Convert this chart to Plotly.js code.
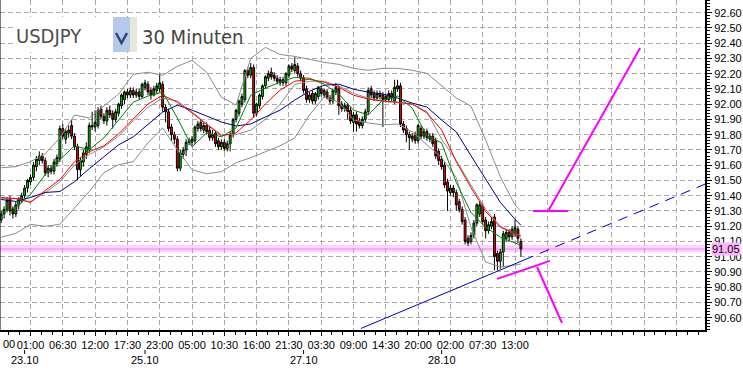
<!DOCTYPE html>
<html><head><meta charset="utf-8">
<script src="https://cdn.plot.ly/plotly-3.0.1.min.js"></script>
<style>html,body{margin:0;padding:0;background:#fff;overflow:hidden}#chart{width:743px;height:370px}</style>
</head><body><div id="chart"></div>
<script>
// ---- candle data (30 min bars, USDJPY) ----
const openP = [91.24,91.28,91.31,91.38,91.31,91.28,91.34,91.37,91.40,91.45,
 91.49,91.52,91.59,91.63,91.66,91.63,91.55,91.58,91.56,91.61,
 91.64,91.84,91.77,91.81,91.86,91.79,91.72,91.57,91.62,91.67,
 91.70,91.86,91.85,91.86,91.97,91.92,91.89,91.96,91.94,91.90,
 91.94,91.99,92.03,92.08,92.06,92.09,92.06,92.08,92.05,92.11,
 92.13,92.09,92.06,92.09,92.10,92.13,91.98,91.95,91.85,91.80,
 91.77,91.58,91.67,91.70,91.76,91.75,91.76,91.84,91.88,91.83,
 91.86,91.83,91.78,91.81,91.76,91.72,91.75,91.71,91.74,91.80,
 91.90,91.94,92.00,92.03,92.22,92.19,92.24,91.94,91.99,92.05,
 92.12,92.17,92.21,92.19,92.17,92.14,92.16,92.14,92.19,92.25,
 92.22,92.25,92.20,92.17,92.10,92.03,92.07,92.02,92.05,92.10,
 92.06,92.08,92.04,92.02,92.08,92.10,92.00,91.97,91.99,91.96,
 91.88,91.93,91.89,91.86,91.90,91.95,92.10,92.07,92.04,92.07,
 92.06,92.05,92.03,92.07,92.02,92.10,92.12,91.87,91.84,91.80,
 91.77,91.80,91.76,91.84,91.79,91.82,91.77,91.79,91.76,91.69,
 91.64,91.60,91.49,91.42,91.45,91.42,91.36,91.31,91.24,91.12,
 91.10,91.14,91.22,91.28,91.33,91.24,91.17,91.20,91.26,91.02,
 90.97,91.03,91.12,91.16,91.13,91.15,91.18,91.10];
const highP = [91.30,91.33,91.39,91.40,91.33,91.36,91.39,91.42,91.47,91.51,
 91.54,91.62,91.66,91.69,91.68,91.65,91.60,91.60,91.64,91.67,
 91.86,91.87,91.84,91.86,91.90,91.81,91.74,91.65,91.70,91.75,
 91.88,91.95,91.96,91.98,91.99,91.94,91.98,91.99,91.96,91.97,
 92.01,92.07,92.09,92.10,92.11,92.11,92.10,92.10,92.14,92.16,
 92.15,92.11,92.12,92.14,92.20,92.15,92.00,91.97,91.87,91.82,
 91.79,91.70,91.72,91.77,91.78,91.79,91.86,91.89,91.90,91.88,
 91.88,91.85,91.83,91.83,91.78,91.77,91.77,91.76,91.82,91.91,
 91.97,92.03,92.07,92.23,92.24,92.27,92.26,92.01,92.07,92.13,
 92.19,92.22,92.24,92.21,92.19,92.18,92.18,92.21,92.26,92.27,
 92.31,92.27,92.22,92.19,92.12,92.08,92.09,92.08,92.12,92.12,
 92.10,92.10,92.06,92.10,92.14,92.12,92.02,92.01,92.01,91.98,
 91.95,91.95,91.91,91.92,91.97,92.11,92.12,92.09,92.09,92.09,
 92.08,92.07,92.09,92.09,92.16,92.16,92.14,91.89,91.86,91.82,
 91.81,91.82,91.87,91.86,91.84,91.84,91.81,91.81,91.78,91.71,
 91.66,91.62,91.51,91.47,91.47,91.44,91.38,91.33,91.26,91.14,
 91.16,91.24,91.35,91.36,91.35,91.26,91.23,91.26,91.28,91.04,
 91.05,91.17,91.18,91.18,91.20,91.24,91.20,91.12];
const lowP = [91.22,91.25,91.29,91.27,91.25,91.26,91.31,91.35,91.38,91.42,
 91.47,91.50,91.56,91.60,91.61,91.53,91.52,91.54,91.54,91.59,
 91.62,91.77,91.74,91.78,91.77,91.70,91.50,91.53,91.59,91.64,
 91.68,91.83,91.82,91.84,91.90,91.87,91.86,91.91,91.84,91.88,
 91.92,91.97,92.00,92.04,92.04,92.04,92.04,92.03,92.04,92.09,
 92.06,92.03,92.05,92.07,92.08,91.95,91.88,91.82,91.76,91.74,
 91.56,91.56,91.64,91.66,91.73,91.73,91.74,91.82,91.82,91.81,
 91.80,91.76,91.76,91.72,91.70,91.70,91.69,91.69,91.69,91.78,
 91.88,91.92,91.98,92.01,92.17,92.17,91.91,91.92,91.97,92.03,
 92.10,92.15,92.16,92.15,92.13,92.12,92.12,92.12,92.17,92.21,
 92.20,92.18,92.15,92.07,92.01,92.01,92.00,92.00,92.03,92.05,
 92.04,92.03,92.00,92.00,92.06,91.93,91.95,91.95,91.90,91.87,
 91.82,91.82,91.84,91.84,91.88,91.93,92.04,92.02,92.02,92.03,
 91.85,92.01,92.01,92.02,92.00,92.08,91.85,91.81,91.75,91.70,
 91.75,91.74,91.74,91.77,91.77,91.76,91.75,91.72,91.64,91.60,
 91.57,91.45,91.30,91.40,91.39,91.30,91.29,91.21,91.08,91.07,
 91.08,91.12,91.20,91.26,91.21,91.12,91.15,91.18,90.91,90.91,
 90.92,90.93,91.10,91.10,91.11,91.13,91.09,91.00];
const closeP = [91.28,91.31,91.37,91.30,91.28,91.34,91.38,91.40,91.45,91.50,
 91.52,91.60,91.64,91.66,91.63,91.55,91.58,91.56,91.62,91.65,
 91.84,91.79,91.82,91.83,91.79,91.72,91.57,91.63,91.68,91.72,
 91.86,91.85,91.88,91.96,91.92,91.89,91.96,91.93,91.90,91.95,
 92.00,92.06,92.08,92.06,92.09,92.06,92.08,92.05,92.13,92.14,
 92.08,92.06,92.10,92.12,92.14,91.98,91.95,91.84,91.80,91.77,
 91.58,91.68,91.70,91.75,91.75,91.77,91.85,91.87,91.84,91.86,
 91.82,91.78,91.80,91.74,91.72,91.75,91.71,91.74,91.80,91.90,
 91.96,92.02,92.05,92.22,92.19,92.24,91.94,92.00,92.06,92.12,
 92.18,92.20,92.18,92.17,92.15,92.16,92.14,92.20,92.25,92.23,
 92.26,92.20,92.17,92.09,92.03,92.06,92.02,92.07,92.11,92.07,
 92.09,92.04,92.02,92.09,92.11,91.99,91.97,91.99,91.95,91.89,
 91.93,91.87,91.86,91.90,91.95,92.09,92.06,92.04,92.07,92.05,
 92.03,92.03,92.07,92.04,92.11,92.12,91.87,91.83,91.80,91.78,
 91.79,91.76,91.86,91.79,91.82,91.78,91.79,91.74,91.66,91.63,
 91.59,91.47,91.43,91.45,91.42,91.34,91.31,91.23,91.10,91.09,
 91.14,91.22,91.34,91.34,91.23,91.17,91.21,91.23,91.00,90.97,
 91.03,91.15,91.16,91.13,91.18,91.19,91.12,91.05];

// ---- indicator lines, read at every 5th bar ----
const maIdx = [0,5,10,15,20,25,30,35,40,45,50,55,60,65,70,75,80,85,90,95,100,105,110,115,120,125,130,135,140,145,150,155,160,165,170,175,177];
const maGreen = [91.290,91.323,91.408,91.538,91.636,91.727,91.701,91.779,91.896,92.013,92.053,92.079,91.909,91.720,91.812,91.786,91.844,92.059,92.105,92.144,92.176,92.170,92.131,92.066,91.961,91.929,92.027,92.053,91.974,91.792,91.746,91.486,91.290,91.193,91.127,91.088,91.075];
const maRed = [91.388,91.381,91.355,91.434,91.505,91.623,91.688,91.727,91.805,91.903,92.001,92.059,92.013,91.942,91.864,91.792,91.812,91.896,92.001,92.092,92.150,92.163,92.144,92.111,92.059,92.033,92.020,92.013,92.001,91.942,91.831,91.623,91.453,91.297,91.193,91.147,91.134];
const maBlue = [91.375,91.362,91.388,91.421,91.427,91.492,91.577,91.655,91.733,91.786,91.870,91.948,91.994,91.961,91.922,91.883,91.857,91.870,91.916,91.961,92.027,92.085,92.124,92.131,92.098,92.079,92.066,92.040,92.007,91.981,91.896,91.818,91.662,91.505,91.356,91.245,91.206];
const bbUpper = [91.583,91.590,91.623,91.675,91.779,91.929,91.909,91.987,92.066,92.196,92.209,92.189,92.248,92.287,92.209,92.046,91.994,92.300,92.372,92.326,92.313,92.294,92.274,92.261,92.235,92.222,92.235,92.235,92.222,92.202,92.124,92.040,91.987,91.766,91.523,91.340,91.297];
const bbMid = [91.38,91.38,91.36,91.42,91.49,91.60,91.67,91.72,91.79,91.89,91.98,92.04,92.02,91.95,91.87,91.80,91.80,91.83,91.90,92.00,92.13,92.15,92.15,92.12,92.07,92.04,92.02,92.01,92.00,91.95,91.77,91.63,91.47,91.31,91.20,91.15,91.14];
const bbLower = [91.127,91.153,91.212,91.199,91.212,91.323,91.427,91.551,91.603,91.623,91.746,91.844,91.701,91.570,91.544,91.557,91.616,91.649,91.688,91.727,91.779,91.929,92.046,92.013,91.896,91.877,91.864,91.870,91.818,91.734,91.649,91.519,91.193,90.965,90.932,90.945,90.952];

// ---- axis labels ----
const timeTickIdx = [10,21,32,43,54,65,76,87,98,109,120,131,142,153,164,175];
const timeTickText = ["01:00","06:30","12:00","17:30","23:00","05:00","10:30","16:00","21:30","03:30","09:00","14:30","20:00","02:00","07:30","13:00"];
const gridOnlyIdx = [186,197,208,219,230];
const dateIdx = [8,49,103,150];
const dateText = ["23.10","25.10","27.10","28.10"];
const lastPrice = 91.05;

// ---- hand-drawn lines on the chart ----
const trendSolidX = [122.5,178.1];
const trendSolidY = [90.529,90.978];
const trendDashX = [178.1,241];
const trendDashY = [90.978,91.486];
const drawX = [181.15,193.07,null,186.3,217.6,null,168.9,186.9,null,182.5,191.0];
const drawY = [91.299,91.299,null,91.299,92.368,null,90.854,90.972,null,90.932,90.565];

const FONT = "Liberation Sans, Arial, sans-serif";
const idx = openP.map((_, i) => i);

const traces = [
  {type:'candlestick', x:idx, open:openP, high:highP, low:lowP, close:closeP,
   increasing:{line:{color:'#000',width:1}, fillcolor:'#00e000'},
   decreasing:{line:{color:'#000',width:1}, fillcolor:'#ff0000'},
   whiskerwidth:0, hoverinfo:'skip', showlegend:false},
  {type:'scatter', mode:'lines', x:maIdx, y:bbUpper, line:{color:'#8c8c8c',width:1}, hoverinfo:'skip', showlegend:false},
  {type:'scatter', mode:'lines', x:maIdx, y:bbLower, line:{color:'#8c8c8c',width:1}, hoverinfo:'skip', showlegend:false},
  {type:'scatter', mode:'lines', x:maIdx, y:bbMid, line:{color:'#8c8c8c',width:1}, hoverinfo:'skip', showlegend:false},
  {type:'scatter', mode:'lines', x:maIdx, y:maBlue, line:{color:'#000080',width:1}, hoverinfo:'skip', showlegend:false},
  {type:'scatter', mode:'lines', x:maIdx, y:maRed, line:{color:'#ff0000',width:1}, hoverinfo:'skip', showlegend:false},
  {type:'scatter', mode:'lines', x:maIdx, y:maGreen, line:{color:'#008000',width:1}, hoverinfo:'skip', showlegend:false},
  {type:'scatter', mode:'lines', x:trendSolidX, y:trendSolidY, line:{color:'#0000c0',width:1}, hoverinfo:'skip', showlegend:false},
  {type:'scatter', mode:'lines', x:trendDashX, y:trendDashY, line:{color:'#0000c0',width:1,dash:'10px,7px'}, hoverinfo:'skip', showlegend:false},
  {type:'scatter', mode:'lines', x:drawX, y:drawY, connectgaps:false, line:{color:'#ff00ff',width:2}, hoverinfo:'skip', showlegend:false}
];

const PW = 705, PH = 330;
const px = v => v / PW;           // pixel -> paper x
const py = v => 1 - v / PH;       // pixel -> paper y

const shapes = [
  {type:'rect', xref:'paper', yref:'y', x0:0, x1:1, y0:lastPrice-0.02, y1:lastPrice+0.026, fillcolor:'#ffd5ff', line:{width:0}, layer:'below'},
  {type:'line', xref:'paper', yref:'y', x0:0, x1:1, y0:lastPrice, y1:lastPrice, line:{color:'#ff99ff',width:1.5}, layer:'below'},
  {type:'line', xref:'paper', yref:'paper', x0:0, x1:0, y0:0, y1:1, line:{color:'#000',width:1}},
  // instrument selector widget
  {type:'rect', xref:'paper', yref:'paper', x0:px(13), x1:px(222), y0:py(52), y1:py(17), fillcolor:'#ffffff', line:{width:0}},
  {type:'rect', xref:'paper', yref:'paper', x0:px(113), x1:px(130), y0:py(52), y1:py(17), fillcolor:'#b7c9ea', line:{width:0}},
  {type:'rect', xref:'paper', yref:'paper', x0:px(130), x1:px(137), y0:py(52), y1:py(17), fillcolor:'#e6e6de', line:{width:0}},
  {type:'path', xref:'paper', yref:'paper', path:`M ${px(116)} ${py(33)} L ${px(121.5)} ${py(43)} L ${px(127)} ${py(33)}`, line:{color:'#2b4780',width:2.5}}
];
dateIdx.forEach(d => shapes.push({type:'line', xref:'x', yref:'paper', x0:d, x1:d, y0:py(350), y1:py(354), line:{color:'#000',width:1}}));

const annotations = [
  {xref:'paper', yref:'paper', x:px(14), y:py(36), xanchor:'left', yanchor:'middle', text:'USDJPY', showarrow:false,
   font:{family:"Liberation Sans Narrow, DejaVu Sans Condensed, Liberation Sans, sans-serif", size:20, color:'#4d4d4d'}},
  {xref:'paper', yref:'paper', x:px(140), y:py(37), xanchor:'left', yanchor:'middle', text:'30 Minuten', showarrow:false,
   font:{family:"Liberation Sans Narrow, DejaVu Sans Condensed, Liberation Sans, sans-serif", size:20, color:'#444'}},
  {xref:'paper', yref:'paper', x:0, y:py(344), xanchor:'left', yanchor:'middle', xshift:1, text:'00', showarrow:false,
   font:{family:FONT, size:11, color:'#000'}},
  {xref:'paper', yref:'y', x:1, y:lastPrice, xanchor:'left', yanchor:'middle', xshift:6, text:lastPrice.toFixed(2), showarrow:false,
   bgcolor:'#ffb3ff', borderpad:0, font:{family:FONT, size:11, color:'#000'}}
];
dateIdx.forEach((d, k) => annotations.push({xref:'x', yref:'paper', x:d, y:py(360), xanchor:'center', yanchor:'middle',
  text:dateText[k], showarrow:false, font:{family:FONT, size:11, color:'#000'}}));

const gridStyle = {showgrid:true, gridcolor:'#aaaaaa', gridwidth:1, griddash:'5px,3px'};

const layout = {
  width:743, height:370,
  margin:{l:0, r:743-PW, t:0, b:370-PH, pad:0},
  paper_bgcolor:'#fff', plot_bgcolor:'#fff',
  showlegend:false, hovermode:false, boxgap:0.1,
  xaxis: Object.assign({}, gridStyle, {
    type:'linear', range:[-0.39, 239.7], autorange:false,
    tickmode:'array', tickvals:timeTickIdx.concat(gridOnlyIdx),
    ticktext:timeTickText.concat(gridOnlyIdx.map(() => '')),
    tickangle:0, ticks:'outside', ticklen:4, tickcolor:'#000', tickwidth:1,
    minor:{tickmode:'linear', tick0:10, dtick:11/3, ticks:'outside', ticklen:3, tickcolor:'#000', showgrid:false},
    showline:true, linecolor:'#000', linewidth:2, zeroline:false,
    rangeslider:{visible:false}, ticklabelstandoff:0,
    tickfont:{family:FONT, size:11, color:'#000'}, fixedrange:true
  }),
  yaxis: Object.assign({}, gridStyle, {
    side:'right', range:[90.519, 92.683], autorange:false,
    tick0:90.6, dtick:0.1, tickformat:'.2f',
    ticks:'outside', ticklen:5, tickcolor:'#000', tickwidth:1,
    minor:{tickmode:'linear', tick0:90.6, dtick:0.02, ticks:'outside', ticklen:3, tickcolor:'#000', showgrid:false},
    showline:true, linecolor:'#000', linewidth:2, zeroline:false,
    tickfont:{family:FONT, size:11, color:'#000'}, fixedrange:true
  }),
  shapes:shapes, annotations:annotations
};

Plotly.newPlot('chart', traces, layout, {displayModeBar:false, staticPlot:true});
</script></body></html>
